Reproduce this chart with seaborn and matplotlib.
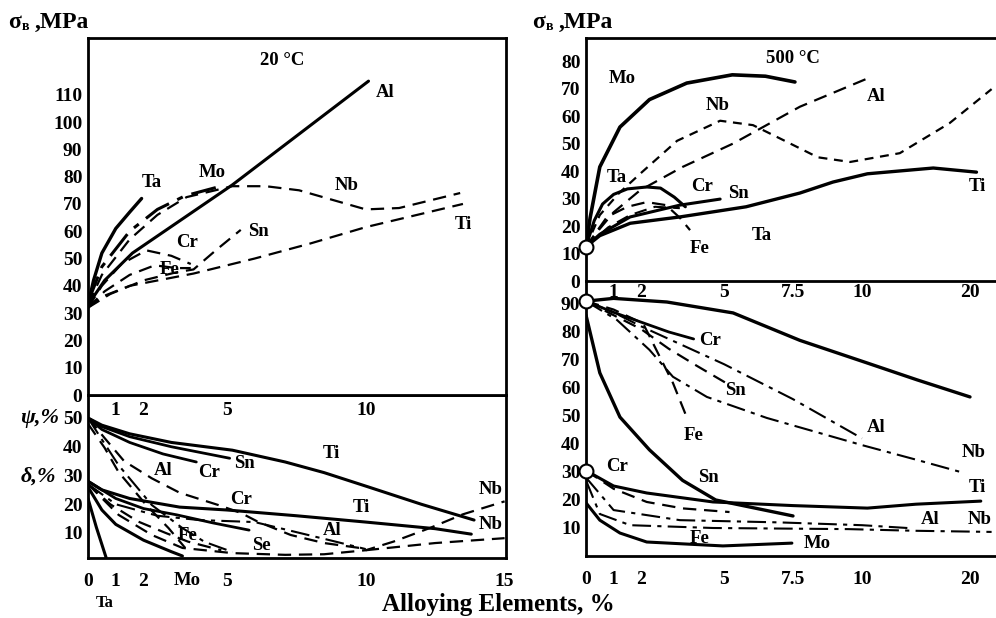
import numpy as np
import matplotlib
matplotlib.use("Agg")
import matplotlib.pyplot as plt
import seaborn as sns

sns.set_theme(style="white")
plt.rcParams['font.family'] = ['Liberation Serif', 'DejaVu Serif']
plt.rcParams['font.weight'] = 'bold'
plt.rcParams['text.color'] = 'black'
plt.rcParams['axes.labelcolor'] = 'black'
plt.rcParams['xtick.color'] = 'black'
plt.rcParams['ytick.color'] = 'black'

# ---------------- data: 20 °C, strength (MPa) ----------------
ta20_x = [0, 0.2, 0.5, 1.0, 1.5, 1.93];            ta20_y = [33, 42, 52, 61, 67, 72]
mo20_x = [0, 0.5, 1.5, 2.5, 3.5, 4.6];             mo20_y = [34, 47, 60, 68, 73, 76]
al20_x = [0, 0.2, 0.6, 1.6, 5.2, 10.1];            al20_y = [32, 36, 42, 52, 77, 115]
nb20_x = [0, 0.5, 1.5, 2.5, 3.55, 5.2, 6.4, 7.6, 8.8, 10, 11.2, 13.4]
nb20_y = [33, 44, 57, 66, 72.5, 76.5, 76.5, 75, 71.5, 68, 68.5, 74]
ti20_x = [0, 0.5, 1.5, 3.8, 6, 8, 10, 13.5];       ti20_y = [32, 36, 40, 44.5, 50, 55.5, 61.5, 70]
cr20_x = [0, 0.5, 1.2, 2.1, 3.0, 3.7];             cr20_y = [32, 40, 48, 53, 51, 48]
fe20_x = [0, 0.6, 1.5, 2.4, 3.2, 3.7];             fe20_y = [32, 38, 44, 47.5, 46.5, 46.5]
sn20_x = [0, 0.8, 2.0, 3.2, 3.8, 4.6, 5.5];        sn20_y = [32, 37, 42, 45, 46, 53, 60.5]

# ---------------- data: 20 °C, psi / delta (%) ----------------
psi_ti_x = [0, 0.5, 1.5, 3, 5.2, 7.1, 8.5, 10.1, 12, 13.9]
psi_ti_y = [50, 47.5, 44.5, 41.5, 38.8, 34.7, 31, 26, 20, 14.5]
psi_sn_x = [0, 0.5, 1.5, 3, 5.1];                  psi_sn_y = [50, 47, 43.5, 40, 36]
psi_cr_x = [0, 0.5, 1.5, 2.7, 3.9];                psi_cr_y = [50, 46, 41.5, 37.5, 34.7]
psi_cr2_x = [0, 0.6, 1.3, 2.3, 3.3, 4.7, 5.5, 6.1, 7.3, 8.5, 10]
psi_cr2_y = [50, 43, 35, 29, 24, 19.7, 17, 14, 9.3, 6.5, 4.5]
psi_al_x = [0, 0.4, 1.1, 2.3, 3.4, 4.2, 5.2];      psi_al_y = [50, 44, 33.6, 19.7, 11.7, 6.9, 3.4]
psi_fe_x = [0, 0.6, 1.1, 2.1, 2.9, 3.5];           psi_fe_y = [48, 39.6, 31.2, 19.7, 11.7, 4.8]
del_ti_x = [0, 0.5, 1.5, 3.3, 5, 7.5, 10, 12.5, 13.8]
del_ti_y = [28, 25, 22, 19, 18, 16, 13.8, 11.5, 9.6]
del_cr_x = [0, 1, 2, 3.2, 4.5, 5.8];               del_cr_y = [28, 22, 18.5, 16.3, 13.5, 11]
del_al_x = [0, 1, 2.5, 4, 6, 8.7, 10];             del_al_y = [27, 20, 16, 14.5, 13.8, 7.5, 4.4]
del_mo_x = [0, 0.5, 1, 2, 3, 3.4];                 del_mo_y = [26, 18, 13, 7.5, 3.5, 2]
del_ta_x = [0, 0.3, 0.65];                         del_ta_y = [22, 12, 1.5]
del_fe_x = [0, 0.8, 1.8, 2.8, 3.6, 4.8];           del_fe_y = [27, 20, 14, 10, 7, 4]
del_nb_x = [0, 1.1, 2.3, 3.4, 5.2, 7.1, 8.5, 10, 11, 12.3, 13.5, 15]
del_nb_y = [27, 16.3, 9.3, 4.8, 3, 2.4, 2.6, 4, 7, 11.7, 16.5, 21]
del_nb2_x = [10, 11, 12.5, 15];                    del_nb2_y = [4, 5, 6.5, 8.2]

# ---------------- data: 500 °C, strength (MPa) ----------------
mo5_x = [0, 0.15, 0.5, 1.23, 2.3, 3.65, 5.3, 6.5, 7.57]
mo5_y = [12.5, 23, 41.5, 56, 66, 72, 75, 74.5, 72.4]
al5_x = [0, 0.5, 1.0, 1.96, 3.5, 5.33, 7.75, 10.7]
al5_y = [12.5, 19, 25, 33, 41.5, 50, 63.4, 74]
nb5_x = [0, 0.5, 1.2, 1.96, 3.3, 4.86, 6.05, 7.14, 8.4, 9.57, 13.5, 18.1, 22]
nb5_y = [12.5, 24, 32, 39, 51, 58.3, 56.7, 51.3, 45, 43.3, 46.5, 57.4, 69.8]
ta5_x = [0, 0.3, 0.6, 1.0, 1.5, 2.2, 2.7, 3.2, 3.6]
ta5_y = [12.5, 22, 28, 31.5, 33.5, 34.2, 33.8, 30.5, 27]
fe5_x = [0, 0.76, 1.5, 2.2, 2.9, 3.4, 3.77];       fe5_y = [12.5, 23.3, 27, 28.7, 27.6, 23, 18.5]
cr5_x = [0, 0.8, 1.6, 2.5, 3.4];                   cr5_y = [12.5, 19.5, 24, 27, 26.5]
sn5_x = [0, 0.5, 1.6, 3.4, 4.86];                  sn5_y = [12.5, 17, 23.3, 27.6, 29.8]
ti5_x = [0, 0.5, 1.6, 3.4, 5.8, 7.75, 8.95, 10.5, 16.6, 20.6]
ti5_y = [12.5, 16.5, 21, 23.3, 27, 32, 36, 39, 41.1, 39.6]

# ---------------- data: 500 °C, psi / delta (%) ----------------
p5_top_x = [0, 1, 2.93, 5.33, 7.75, 10.5, 15.1, 20];  p5_top_y = [91, 92, 90.7, 86.8, 77, 68.9, 62.9, 56.8]
p5_cr_x = [0, 1, 2, 3, 3.9];                         p5_cr_y = [91, 87, 83.5, 80, 77.5]
p5_sn_x = [0, 1, 2, 3, 4, 5.07];                     p5_sn_y = [91, 86, 81, 74, 68, 61.8]
p5_al_x = [0, 1, 2, 3, 4, 5, 7.5, 10];               p5_al_y = [91, 87, 82, 77.5, 73, 68.5, 56, 42]
p5_fe_x = [0, 1, 2.07, 2.68, 3.15, 3.66];            p5_fe_y = [91, 88, 83, 71, 61.8, 49.3]
p5_nb_x = [0, 1.12, 2.3, 3.15, 4.38, 6.55, 10, 15.1, 19.5]
p5_nb_y = [91, 84.3, 73.6, 64, 56.8, 49.3, 39.6, 34.3, 29.6]
p5_sn2_x = [0, 0.5, 1.23, 2.3, 3.5, 4.7, 7.5];       p5_sn2_y = [86, 65.4, 49.6, 37.9, 27, 20, 14.3]
d5_ti_x = [0, 1, 2.2, 4.6, 7.5, 10.5, 15, 21];       d5_ti_y = [30.5, 25, 22.5, 19.3, 18, 17.1, 18.5, 19.6]
d5_cr_x = [0, 1, 2.2, 3.5, 5.2];                     d5_cr_y = [30.5, 24, 19.3, 17, 15.7]
d5_al_x = [0, 1, 3.4, 7, 10, 14.2];                  d5_al_y = [28, 16.4, 12.8, 12, 11, 10]
d5_nb_x = [0, 0.5, 1.6, 4.6, 9.5, 15, 22];           d5_nb_y = [27, 15, 11, 10, 9.6, 9, 8.6]
d5_mo_x = [0, 0.5, 1.23, 2.2, 4.96, 7.46];           d5_mo_y = [19, 12.8, 8.2, 5, 3.6, 4.6]

# ---------------- figure ----------------
W, H = 996, 618
fig = plt.figure(figsize=(W / 100, H / 100), dpi=100)
fig.patch.set_facecolor('white')

def box(x0, y0, x1, y1):
    return [x0 / W, 1 - y1 / H, (x1 - x0) / W, (y1 - y0) / H]

ax_lb = fig.add_axes(box(88, 395, 506, 558))
ax_rb = fig.add_axes(box(586, 281, 1010, 556))
ax_lt = fig.add_axes(box(88, 38, 506, 395))
ax_rt = fig.add_axes(box(586, 38, 1010, 281))
ax_lt.set_zorder(3)
ax_rt.set_zorder(3)

K = 27.6 / 10.8
def fwd(x):
    x = np.asarray(x, dtype=float)
    return np.where(x <= 10, x, 10 + (x - 10) / K)
def inv(y):
    y = np.asarray(y, dtype=float)
    return np.where(y <= 10, y, 10 + (y - 10) * K)

XMAX_R = float(inv((1010 - 586) / 27.6))

SOLID = '-'
DASH = (0, (6, 3.5))
DASHDOT = (0, (9, 3, 2, 3))
SHORT = (0, (4, 3))

def draw(ax, x, y, ls, lw=1.6):
    sns.lineplot(x=x, y=y, ax=ax, color='black', linestyle=ls, linewidth=lw,
                 sort=False, estimator=None, legend=False)

TFS = 13.5
def lab(ax, x, y, s, fs=TFS, **kw):
    ax.text(x, y, s, fontsize=fs, fontweight='bold', ha='center', va='center',
            color='black', clip_on=False, **kw)

for ax in (ax_lt, ax_lb, ax_rt, ax_rb):
    ax.set_facecolor('white')
    for sp in ax.spines.values():
        sp.set_color('black')
        sp.set_linewidth(2.0)
    ax.set_xlabel('')
    ax.set_ylabel('')
    ax.tick_params(colors='black', labelsize=14, direction='in', width=1.6, length=9)

# ---- left top ----
ax = ax_lt
draw(ax, al20_x, al20_y, SOLID, 2.2)
draw(ax, ta20_x, ta20_y, SOLID, 2.4)
draw(ax, mo20_x, mo20_y, DASHDOT, 2.2)
draw(ax, nb20_x, nb20_y, DASH, 1.6)
draw(ax, ti20_x, ti20_y, DASH, 1.6)
draw(ax, cr20_x, cr20_y, DASH, 1.6)
draw(ax, fe20_x, fe20_y, DASH, 1.6)
draw(ax, sn20_x, sn20_y, DASH, 1.6)
ax.set_xlim(0, 15.05)
ax.set_ylim(0, 130.8)
ax.set_yticks(range(0, 111, 10))
ax.set_yticklabels([str(v) for v in range(0, 111, 10)])
ax.set_xticks([1, 2, 5, 10])
ax.set_xticklabels(['1', '2', '5', '10'])
ax.tick_params(axis='x', pad=5)
ax.tick_params(axis='y', pad=4)
lab(ax, 6.98, 122.7, '20 °C')
lab(ax, 10.7, 111, 'Al'); lab(ax, 2.3, 78, 'Ta'); lab(ax, 4.46, 81.7, 'Mo')
lab(ax, 9.3, 76.6, 'Nb'); lab(ax, 3.56, 56, 'Cr'); lab(ax, 6.15, 60, 'Sn')
lab(ax, 2.95, 46, 'Fe'); lab(ax, 13.5, 62.6, 'Ti')

# ---- left bottom ----
ax = ax_lb
draw(ax, psi_ti_x, psi_ti_y, SOLID, 2.2)
draw(ax, psi_sn_x, psi_sn_y, SOLID, 2.0)
draw(ax, psi_cr_x, psi_cr_y, SOLID, 2.0)
draw(ax, psi_cr2_x, psi_cr2_y, DASH, 1.6)
draw(ax, psi_al_x, psi_al_y, DASHDOT, 1.5)
draw(ax, psi_fe_x, psi_fe_y, DASH, 1.6)
draw(ax, del_ti_x, del_ti_y, SOLID, 2.2)
draw(ax, del_cr_x, del_cr_y, SOLID, 2.0)
draw(ax, del_al_x, del_al_y, DASHDOT, 1.5)
draw(ax, del_mo_x, del_mo_y, SOLID, 2.2)
draw(ax, del_ta_x, del_ta_y, SOLID, 2.2)
draw(ax, del_fe_x, del_fe_y, DASH, 1.6)
draw(ax, del_nb_x, del_nb_y, DASH, 1.6)
draw(ax, del_nb2_x, del_nb2_y, DASH, 1.6)
ax.set_xlim(0, 15.05)
ax.set_ylim(1.3, 58)
ax.set_yticks([10, 20, 30, 40, 50])
ax.set_yticklabels(['10', '20', '30', '40', '50'])
ax.set_xticks([0, 1, 2, 5, 10, 15])
ax.set_xticklabels(['0', '1', '2', '5', '10', '15'])
ax.tick_params(axis='x', pad=11)
ax.tick_params(axis='y', pad=4)
lab(ax, -1.75, 50, 'ψ,%', fs=16, style='italic')
lab(ax, -1.8, 29.5, 'δ,%', fs=16, style='italic')
lab(ax, 8.77, 37.8, 'Ti'); lab(ax, 5.63, 34.3, 'Sn'); lab(ax, 4.37, 31.2, 'Cr')
lab(ax, 2.7, 31.9, 'Al'); lab(ax, 5.5, 21.8, 'Cr'); lab(ax, 9.85, 18.7, 'Ti')
lab(ax, 14.5, 25.3, 'Nb'); lab(ax, 14.5, 12.8, 'Nb'); lab(ax, 3.6, 9, 'Fe')
lab(ax, 6.25, 5.8, 'Se'); lab(ax, 8.8, 10.7, 'Al')
lab(ax, 3.57, -6.7, 'Mo'); lab(ax, 0.6, -14.5, 'Ta', fs=12)

# ---- right top ----
ax = ax_rt
ax.set_xscale('function', functions=(fwd, inv))
draw(ax, mo5_x, mo5_y, SOLID, 2.6)
draw(ax, al5_x, al5_y, DASH, 1.6)
draw(ax, nb5_x, nb5_y, SHORT, 1.6)
draw(ax, ta5_x, ta5_y, SOLID, 2.2)
draw(ax, fe5_x, fe5_y, DASH, 1.6)
draw(ax, cr5_x, cr5_y, DASH, 1.5)
draw(ax, sn5_x, sn5_y, SOLID, 2.2)
draw(ax, ti5_x, ti5_y, SOLID, 2.4)
ax.plot([0], [12.5], marker='o', ms=10, mfc='white', mec='black', mew=1.5, clip_on=False, zorder=5)
ax.set_xlim(0, XMAX_R)
ax.set_ylim(0, 88.4)
ax.spines['right'].set_visible(False)
ax.set_yticks(range(0, 81, 10))
ax.set_yticklabels([str(v) for v in range(0, 81, 10)])
ax.set_xticks([1, 2, 5, 7.5, 10, 20])
ax.set_xticklabels(['1', '2', '5', '7.5', '10', '20'])
ax.xaxis.set_minor_locator(matplotlib.ticker.NullLocator())
ax.tick_params(axis='x', pad=2)
ax.tick_params(axis='y', pad=4)
lab(ax, 7.5, 81, '500 °C')
lab(ax, 1.3, 73.5, 'Mo'); lab(ax, 4.78, 64, 'Nb'); lab(ax, 11.3, 67.3, 'Al')
lab(ax, 1.12, 37.8, 'Ta'); lab(ax, 4.2, 34.2, 'Cr'); lab(ax, 5.54, 32, 'Sn')
lab(ax, 20.7, 34.2, 'Ti'); lab(ax, 6.38, 16.4, 'Ta'); lab(ax, 4.13, 12, 'Fe')

# ---- right bottom ----
ax = ax_rb
ax.set_xscale('function', functions=(fwd, inv))
draw(ax, p5_top_x, p5_top_y, SOLID, 2.4)
draw(ax, p5_cr_x, p5_cr_y, SOLID, 2.0)
draw(ax, p5_sn_x, p5_sn_y, DASH, 1.6)
draw(ax, p5_al_x, p5_al_y, DASHDOT, 1.5)
draw(ax, p5_fe_x, p5_fe_y, DASH, 1.6)
draw(ax, p5_nb_x, p5_nb_y, DASHDOT, 1.5)
draw(ax, p5_sn2_x, p5_sn2_y, SOLID, 2.4)
draw(ax, d5_ti_x, d5_ti_y, SOLID, 2.2)
draw(ax, d5_cr_x, d5_cr_y, DASH, 1.6)
draw(ax, d5_al_x, d5_al_y, DASHDOT, 1.5)
draw(ax, d5_nb_x, d5_nb_y, DASHDOT, 1.5)
draw(ax, d5_mo_x, d5_mo_y, SOLID, 2.2)
ax.plot([0, 0], [91, 30.5], ls='none', marker='o', ms=10, mfc='white', mec='black', mew=1.5,
        clip_on=False, zorder=5)
ax.set_xlim(0, XMAX_R)
ax.set_ylim(0, 98.2)
ax.spines['right'].set_visible(False)
ax.spines['top'].set_visible(False)
ax.set_yticks(range(10, 91, 10))
ax.set_yticklabels([str(v) for v in range(10, 91, 10)])
ax.set_xticks([0, 1, 2, 5, 7.5, 10, 20])
ax.set_xticklabels(['0', '1', '2', '5', '7.5', '10', '20'])
ax.xaxis.set_minor_locator(matplotlib.ticker.NullLocator())
ax.tick_params(axis='x', pad=11)
ax.tick_params(axis='y', pad=4)
lab(ax, 4.5, 76.8, 'Cr'); lab(ax, 5.43, 59, 'Sn'); lab(ax, 3.9, 43.2, 'Fe')
lab(ax, 11.3, 46, 'Al'); lab(ax, 20.3, 36.8, 'Nb'); lab(ax, 20.7, 24.6, 'Ti')
lab(ax, 1.12, 32, 'Cr'); lab(ax, 4.42, 28.2, 'Sn'); lab(ax, 16.3, 12.9, 'Al')
lab(ax, 20.9, 12.9, 'Nb'); lab(ax, 4.13, 6.4, 'Fe'); lab(ax, 8.37, 4.6, 'Mo')

# ---- headings ----
def sigma_title(x0):
    y = 1 - 22 / H
    fig.text(x0 / W, y, 'σ', fontsize=17, fontweight='bold', va='center', ha='left', color='black')
    fig.text((x0 + 14) / W, y - 4 / H, 'в', fontsize=10, fontweight='bold', va='center', ha='left',
             color='black')
    fig.text((x0 + 27) / W, y, ',MPa', fontsize=17, fontweight='bold', va='center', ha='left',
             color='black')

sigma_title(8)
sigma_title(532)
fig.text(498 / W, 1 - 605 / H, 'Alloying Elements, %', fontsize=18, fontweight='bold',
         ha='center', va='center', color='black')

fig.savefig('out.png', dpi=100, facecolor='white')
